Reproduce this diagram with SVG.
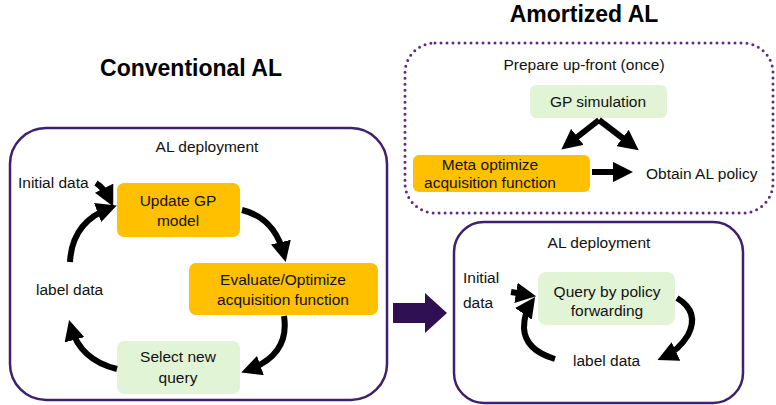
<svg xmlns="http://www.w3.org/2000/svg" width="776" height="405" viewBox="0 0 776 405">
<style>
text{font-family:"Liberation Sans",Arial,sans-serif;font-size:15.5px;fill:#111}
.t{font-weight:bold;font-size:23px;text-anchor:middle;fill:#000}
.c{text-anchor:middle}
.frame{fill:#fff;stroke:#3f2070;stroke-width:2.5}
.dot{fill:none;stroke:#5a2c8c;stroke-width:3;stroke-dasharray:0 6;stroke-linecap:round}
.or{fill:#FFC000}
.gr{fill:#E2F4D6}
.a{fill:none;stroke:#000;stroke-width:6;marker-end:url(#h)}
</style>
<defs>
<marker id="h" markerWidth="3.4" markerHeight="3.4" refX="2.2" refY="1.7" orient="auto" markerUnits="strokeWidth">
<path d="M0,0 L3.4,1.7 L0,3.4 Z" fill="#000"/>
</marker>
</defs>

<text class="t" x="191" y="76">Conventional AL</text>
<text class="t" x="584" y="22">Amortized AL</text>

<g id="conventional-frame">
<rect class="frame" x="10" y="128" width="377" height="272" rx="36"/>
<text class="c" x="207" y="152">AL deployment</text>
</g>
<g id="update-gp">
<rect class="or" x="117" y="183" width="123" height="54" rx="7"/>
<text class="c" x="178" y="206">Update GP</text>
<text class="c" x="178" y="226">model</text>
</g>
<g id="evaluate">
<rect class="or" x="189" y="263" width="189" height="52" rx="7"/>
<text class="c" x="283" y="285">Evaluate/Optimize</text>
<text class="c" x="283" y="305">acquisition function</text>
</g>
<g id="select-query">
<rect class="gr" x="117" y="341" width="123" height="53" rx="7"/>
<text class="c" x="178" y="362">Select new</text>
<text class="c" x="178" y="383">query</text>
</g>
<g id="initial-data-left"><text x="18" y="188">Initial data</text></g>
<g id="label-data-left"><text x="36" y="295">label data</text></g>

<g id="prepare-frame">
<rect class="dot" x="405" y="43" width="368" height="170" rx="30"/>
<text class="c" x="584" y="70">Prepare up-front (once)</text>
</g>
<g id="gp-simulation">
<rect class="gr" x="530" y="85" width="137" height="33" rx="6"/>
<text class="c" x="598" y="107">GP simulation</text>
</g>
<g id="meta-optimize">
<rect class="or" x="413" y="155" width="177" height="37" rx="6"/>
<text class="c" x="490" y="170">Meta optimize</text>
<text class="c" x="490" y="188">acquisition function</text>
</g>
<g id="obtain-policy"><text x="646" y="179">Obtain AL policy</text></g>

<g id="deployment-frame">
<rect class="frame" x="454" y="222" width="289" height="181" rx="30"/>
<text class="c" x="599" y="248">AL deployment</text>
</g>
<g id="query-policy">
<rect class="gr" x="538" y="272" width="137" height="53" rx="8"/>
<text class="c" x="607" y="297">Query by policy</text>
<text class="c" x="607" y="316">forwarding</text>
</g>
<g id="initial-data-right">
<text x="463" y="283">Initial</text>
<text x="463" y="308">data</text>
</g>
<g id="label-data-right"><text x="573" y="366">label data</text></g>

<g id="connectors">
<path class="a" d="M242,210 Q275,218 284,255"/>
<path class="a" d="M284,316 Q290,355 248,370"/>
<path class="a" d="M117,369 Q80,360 71,327"/>
<path class="a" d="M70,262 Q72,222 110,208"/>
<path class="a" d="M96,183 Q104,188 110,200"/>
<path class="a" d="M599,120 L567,145"/>
<path class="a" d="M599,120 L633,146"/>
<path class="a" d="M592,172 L626,172"/>
<path class="a" d="M677,298 Q700,312 688,335 Q679,350 664,357"/>
<path class="a" d="M555,359 Q525,350 524,328 Q524,313 531,303"/>
<path class="a" d="M511,292 L529,295"/>
<path d="M393,303 L425,303 L425,293 L447,313 L425,333 L425,323 L393,323 Z" fill="#2f1153"/>
</g>
</svg>
